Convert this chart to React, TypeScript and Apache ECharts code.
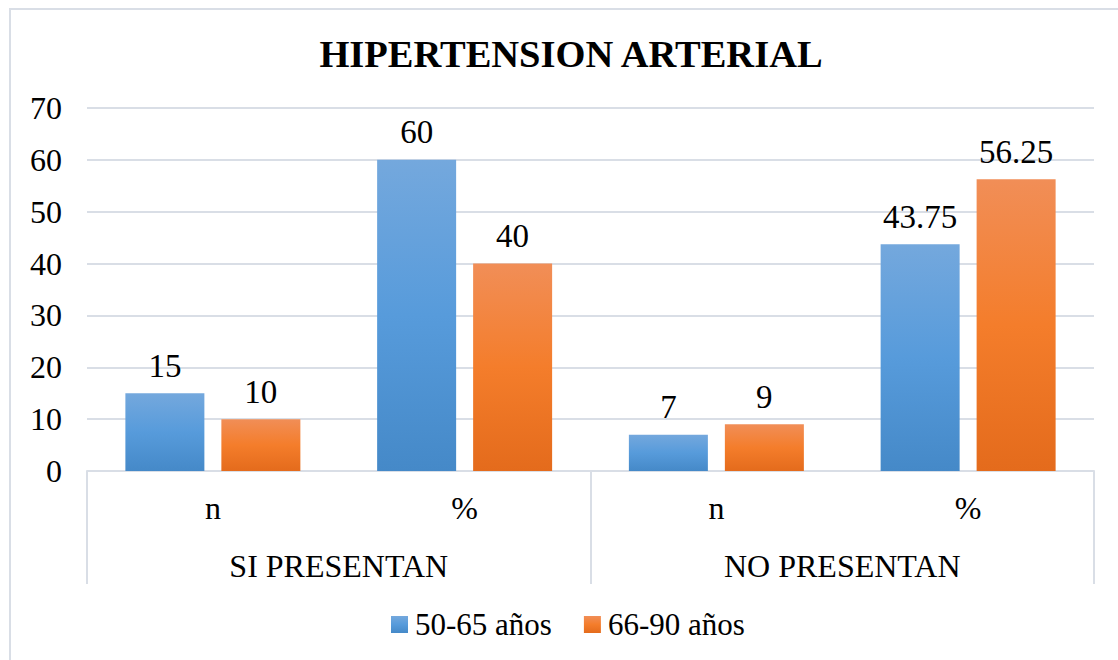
import React, { useEffect, useRef } from "react";
import * as echarts from "echarts";

const titleText = "HIPERTENSION ARTERIAL";
const categories = ["n", "%", "n", "%"];
const groups = ["SI PRESENTAN", "NO PRESENTAN"];
const seriesNames = ["50-65 años", "66-90 años"];
const values5065 = [15, 60, 7, 43.75];
const values6690 = [10, 40, 9, 56.25];
const yTicks = [0, 10, 20, 30, 40, 50, 60, 70];

const FONT = "Liberation Serif";
const GRID_COLOR = "#d9dee6";

const blueGrad = () =>
  new echarts.graphic.LinearGradient(0, 0, 0, 1, [
    { offset: 0, color: "#74a8dd" },
    { offset: 0.5, color: "#579bdb" },
    { offset: 1, color: "#4589c8" },
  ]);
const orangeGrad = () =>
  new echarts.graphic.LinearGradient(0, 0, 0, 1, [
    { offset: 0, color: "#f18e57" },
    { offset: 0.5, color: "#f47d2b" },
    { offset: 1, color: "#e46b1c" },
  ]);

export default function App() {
  const ref = useRef<HTMLDivElement>(null);
  useEffect(() => {
    if (!ref.current) return;
    const chart = echarts.init(ref.current, null, { renderer: "svg" });
    const labelStyle = {
      show: true,
      position: "top",
      distance: 11,
      fontFamily: FONT,
      fontSize: 33,
      color: "#000",
    };
    chart.setOption({
      animation: false,
      backgroundColor: "#fff",
      graphic: [
        {
          type: "rect",
          shape: { x: 10, y: 9, width: 1200, height: 800 },
          style: { fill: "none", stroke: GRID_COLOR, lineWidth: 2 },
          silent: true,
          z: -1,
        },
      ],
      title: {
        text: titleText,
        left: 566,
        textAlign: "center",
        top: 29,
        textStyle: { fontFamily: FONT, fontSize: 38.5, fontWeight: "bold", color: "#000" },
      },
      legend: {
        data: seriesNames,
        bottom: 15,
        left: 386,
        icon: "rect",
        itemWidth: 17,
        itemHeight: 17,
        itemGap: 32,
        textStyle: { fontFamily: FONT, fontSize: 31, color: "#000", padding: [0, 0, 0, 2] },
      },
      grid: { left: 87, right: 24, top: 108, bottom: 189, containLabel: false },
      xAxis: [
        {
          type: "category",
          data: categories,
          position: "bottom",
          axisLine: { show: true, lineStyle: { color: GRID_COLOR, width: 2 } },
          axisTick: { show: false },
          axisLabel: { fontFamily: FONT, fontSize: 32, color: "#000", margin: 21 },
        },
        {
          type: "category",
          data: groups,
          position: "bottom",
          axisLine: { show: false },
          axisTick: { show: true, length: 113, lineStyle: { color: GRID_COLOR, width: 2 } },
          axisLabel: { fontFamily: FONT, fontSize: 32, color: "#000", margin: 79 },
        },
      ],
      yAxis: {
        type: "value",
        min: yTicks[0],
        max: yTicks[yTicks.length - 1],
        interval: 10,
        axisLine: { show: false },
        axisTick: { show: false },
        splitLine: { lineStyle: { color: GRID_COLOR, width: 2 } },
        axisLabel: { fontFamily: FONT, fontSize: 32, color: "#000", margin: 25 },
      },
      series: [
        {
          name: seriesNames[0],
          type: "bar",
          xAxisIndex: 0,
          data: values5065,
          barWidth: 79,
          barGap: "21.5%",
          itemStyle: { color: blueGrad() },
          label: labelStyle,
        },
        {
          name: seriesNames[1],
          type: "bar",
          xAxisIndex: 0,
          data: values6690,
          barWidth: 79,
          barGap: "21.5%",
          itemStyle: { color: orangeGrad() },
          label: labelStyle,
        },
      ],
    });
    return () => chart.dispose();
  }, []);
  return (
    <div
      ref={ref}
      style={{ position: "absolute", left: 0, top: 0, width: 1118, height: 660 }}
    />
  );
}
